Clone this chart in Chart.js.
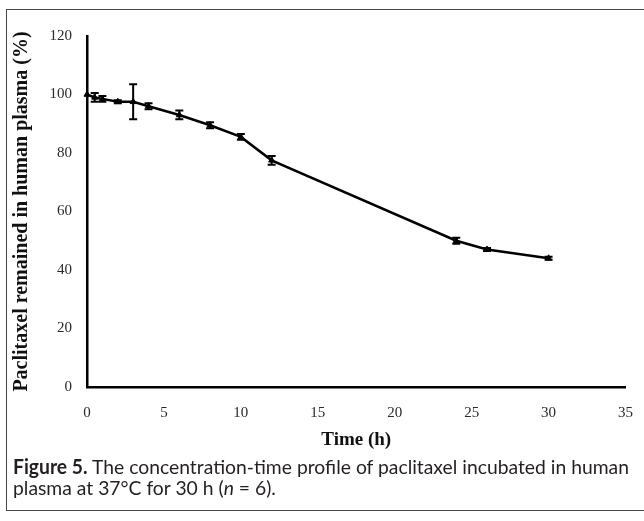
<!DOCTYPE html>
<html>
<head>
<meta charset="utf-8">
<script src="https://cdn.jsdelivr.net/npm/chart.js@4.4.1/dist/chart.umd.min.js"></script>
<style>
  body { margin: 0; background: #fff; }
  #wrap { position: relative; width: 644px; height: 521px; overflow: hidden; }
  #frame { position: absolute; left: 6px; top: 9px; width: 700px; height: 500px; border: 1.5px solid #444; }
  #chart { position: absolute; left: 0; top: 0; }
  .cap { position: absolute; left: 13px; font-family: Lato, 'Open Sans', sans-serif; font-size: 20px; line-height: 22px; color: #231f20; white-space: nowrap; transform-origin: 0 0; }
</style>
</head>
<body>
<div id="wrap">
  <div id="frame"></div>
  <canvas id="chart" width="650" height="455"></canvas>
  <div class="cap" id="cap1" style="top:455px"><b>Figure 5.</b> The concentration-time profile of paclitaxel incubated in human</div>
  <div class="cap" id="cap2" style="top:476px">plasma at 37°C for 30 h (<i>n</i> = 6).</div>
</div>
<script>
var times = [0, 0.5, 1, 2, 3, 4, 6, 8, 10, 12, 24, 26, 30];
var remaining = [100, 99, 98.5, 97.5, 97.5, 96, 93, 89.5, 85.5, 77.5, 50, 47, 44];
var errors = [0, 1.5, 1, 0.5, 6, 1, 1.5, 1, 1, 1.5, 1, 0.5, 0.5];
var xTicks = [0, 5, 10, 15, 20, 25, 30, 35];
var yTicks = [0, 20, 40, 60, 80, 100, 120];

var points = [];
for (var i in times) {
  points.push({x: times[i], y: remaining[i]});
}

// squeeze the caption to the figure width, like the narrow journal font
var cap1 = document.getElementById('cap1');
var squeeze = 616 / cap1.getBoundingClientRect().width;
cap1.style.transform = 'scaleX(' + squeeze + ')';
document.getElementById('cap2').style.transform = 'scaleX(' + squeeze + ')';

var errorBars = {
  id: 'errorBars',
  afterDatasetsDraw: function(chart) {
    var ctx = chart.ctx;
    var xs = chart.scales.x, ys = chart.scales.y;
    ctx.save();
    ctx.strokeStyle = '#000';
    ctx.lineWidth = 2;
    for (var i = 0; i < times.length; i++) {
      if (!errors[i]) continue;
      var x = xs.getPixelForValue(times[i]);
      var top = ys.getPixelForValue(remaining[i] + errors[i]);
      var bot = ys.getPixelForValue(remaining[i] - errors[i]);
      ctx.beginPath();
      ctx.moveTo(x, top); ctx.lineTo(x, bot);
      ctx.moveTo(x - 4, top); ctx.lineTo(x + 4, top);
      ctx.moveTo(x - 4, bot); ctx.lineTo(x + 4, bot);
      ctx.stroke();
    }
    ctx.restore();
  }
};

var serif = "'Liberation Serif', 'Times New Roman', serif";
var tickFont = {family: serif, size: 15};

var chart = new Chart(document.getElementById('chart'), {
  type: 'line',
  data: {
    datasets: [{
      data: points,
      borderColor: '#000',
      backgroundColor: '#000',
      borderWidth: 2.5,
      pointStyle: 'triangle',
      pointRadius: 3.5,
      pointBorderWidth: 1,
      tension: 0,
      clip: 6
    }]
  },
  options: {
    responsive: false,
    animation: false,
    devicePixelRatio: 1,
    layout: {padding: {left: 7, top: 36, right: 2, bottom: 0}},
    plugins: {legend: {display: false}, tooltip: {enabled: false}},
    scales: {
      x: {
        type: 'linear', min: 0, max: 35,
        afterBuildTicks: function(s) { s.ticks = xTicks.map(function(v) { return {value: v}; }); },
        afterFit: function(s) { s.height = 68; },
        grid: {drawOnChartArea: false, drawTicks: false},
        border: {color: '#000', width: 2.5},
        ticks: {font: tickFont, color: '#2a2a2a', padding: 17},
        title: {display: true, text: 'Time (h)', font: {family: serif, size: 19, weight: 'bold'}, color: '#111', padding: {top: 4, bottom: 4}}
      },
      y: {
        min: 0, max: 120,
        afterBuildTicks: function(s) { s.ticks = yTicks.map(function(v) { return {value: v}; }); },
        afterFit: function(s) { s.width = 80; },
        grid: {drawOnChartArea: false, drawTicks: false},
        border: {color: '#000', width: 2.5},
        ticks: {font: tickFont, color: '#2a2a2a', padding: 15},
        title: {display: true, text: 'Paclitaxel remained in human plasma (%)', font: {family: serif, size: 20, weight: 'bold'}, color: '#111', padding: {top: 3, bottom: 2}}
      }
    }
  },
  plugins: [errorBars]
});
</script>
</body>
</html>
